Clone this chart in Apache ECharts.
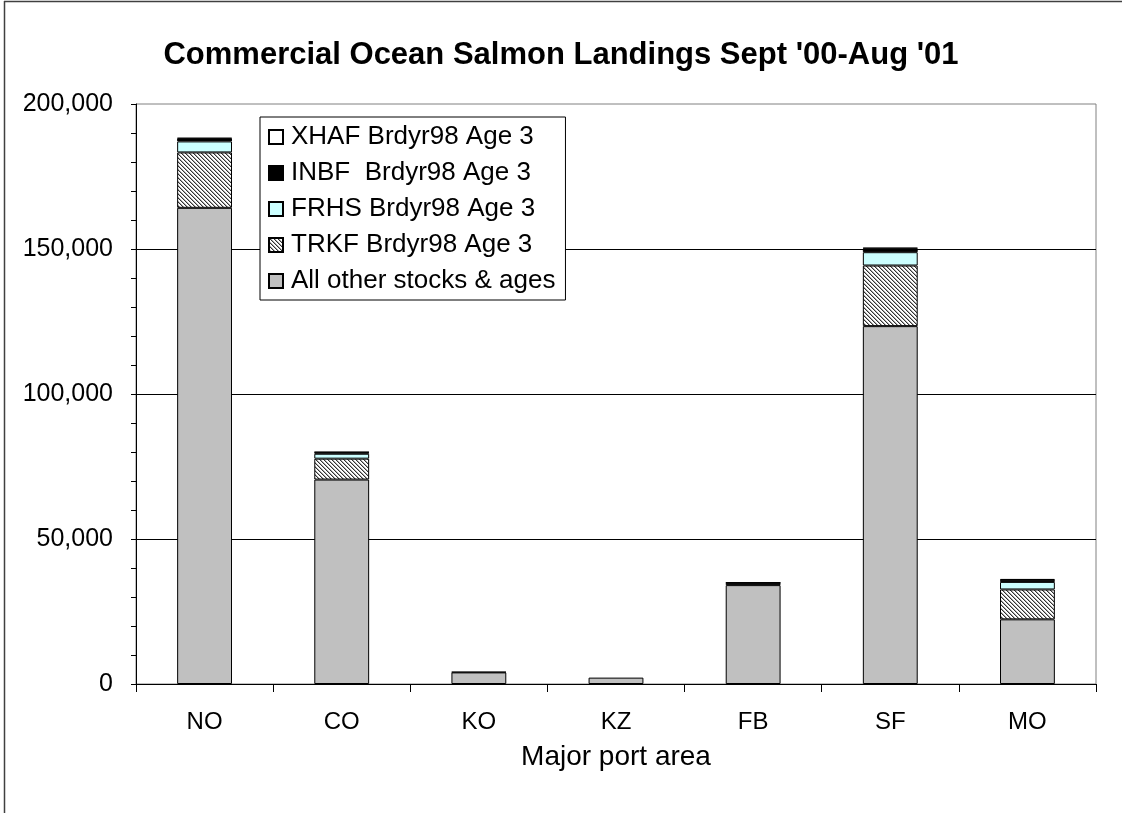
<!DOCTYPE html>
<html>
<head>
<meta charset="utf-8">
<title>Commercial Ocean Salmon Landings</title>
<script src="https://cdn.jsdelivr.net/npm/echarts@6/dist/echarts.min.js"></script>
<style>
  html, body { margin: 0; padding: 0; background: #fff; }
  #chart { width: 1122px; height: 813px; }
</style>
</head>
<body>
<div id="chart"></div>
<script>
// Port areas and landings by stock (fish)
var ports = ['NO', 'CO', 'KO', 'KZ', 'FB', 'SF', 'MO'];
var allOther = [164200, 70500, 4000, 2200, 34100, 123400, 22300];
var trkf = [19100, 7200, 200, '-', '-', 20900, 10300];
var frhs = [3800, 1700, '-', '-', '-', 4600, 2600];
var inbf = [1000, 500, '-', '-', 800, 1300, 700];
var xhaf = [200, 100, '-', '-', 100, 200, 300];

var seriesNames = ['XHAF Brdyr98 Age 3', 'INBF  Brdyr98 Age 3', 'FRHS Brdyr98 Age 3', 'TRKF Brdyr98 Age 3', 'All other stocks & ages'];

// diagonal hatch for TRKF
function hatch() {
  var c = document.createElement('canvas');
  c.width = 4;
  c.height = 4;
  var ctx = c.getContext('2d');
  ctx.fillStyle = '#fff';
  ctx.fillRect(0, 0, 4, 4);
  for (var i = 0; i < 4; i++) {
    ctx.fillStyle = '#333';
    ctx.fillRect(i, i, 1, 1);
    ctx.fillStyle = '#aaa';
    ctx.fillRect((i + 1) % 4, i, 1, 1);
  }
  return c;
}

function bar(name, data, color) {
  return {
    name: name,
    type: 'bar',
    stack: 'total',
    barWidth: '40%',
    data: data,
    itemStyle: { color: color, borderColor: '#000', borderWidth: 1 },
    emphasis: { disabled: true }
  };
}

document.addEventListener("DOMContentLoaded", () => {
  var chart = echarts.init(document.querySelector("#chart"));
  chart.setOption({
    animation: false,
    backgroundColor: '#fff',
    textStyle: { fontFamily: 'Liberation Sans, Arial, sans-serif', color: '#000' },
    title: {
      text: "Commercial Ocean Salmon Landings Sept '00-Aug '01",
      left: 'center',
      top: 35,
      textStyle: { fontSize: 31, fontWeight: 'bold', color: '#000', fontFamily: 'Liberation Sans, Arial, sans-serif' }
    },
    graphic: [
      { type: 'line', shape: { x1: 4, y1: 1.5, x2: 1122, y2: 1.5 }, style: { stroke: '#404040', lineWidth: 1.5 } },
      { type: 'line', shape: { x1: 4.5, y1: 1, x2: 4.5, y2: 813 }, style: { stroke: '#404040', lineWidth: 1.5 } }
    ],
    legend: {
      orient: 'vertical',
      left: 260,
      top: 117,
      data: seriesNames,
      icon: 'rect',
      itemWidth: 14,
      itemHeight: 14,
      itemGap: 10,
      padding: [7, 10, 6, 8],
      borderColor: '#000',
      borderWidth: 1,
      backgroundColor: '#fff',
      selectedMode: false,
      textStyle: { fontSize: 26, color: '#000', padding: [0, 0, 0, 3], fontFamily: 'Liberation Sans, Arial, sans-serif' }
    },
    grid: {
      left: 136,
      right: 26,
      top: 104,
      bottom: 129,
      show: true,
      borderColor: '#808080',
      borderWidth: 1
    },
    xAxis: {
      type: 'category',
      data: ports,
      boundaryGap: true,
      name: 'Major port area',
      nameLocation: 'middle',
      nameGap: 59,
      nameTextStyle: { fontSize: 28, color: '#000' },
      axisLine: { lineStyle: { color: '#000', width: 1 } },
      axisTick: { show: true, length: 8, lineStyle: { color: '#000' } },
      axisLabel: { fontSize: 24, color: '#000', margin: 26 }
    },
    yAxis: {
      type: 'value',
      min: 0,
      max: 200000,
      interval: 50000,
      axisLine: { show: true, lineStyle: { color: '#000', width: 1 } },
      axisTick: { show: true, length: 5, lineStyle: { color: '#000' } },
      minorTick: { show: true, splitNumber: 5, length: 5, lineStyle: { color: '#000' } },
      axisLabel: {
        fontSize: 25,
        color: '#000',
        margin: 23,
        formatter: function (v) { return v.toLocaleString('en-US'); }
      },
      splitLine: { show: true, showMaxLine: false, lineStyle: { color: '#000', width: 1 } }
    },
    series: [
      bar('All other stocks & ages', allOther, '#C0C0C0'),
      bar('TRKF Brdyr98 Age 3', trkf, { image: hatch(), repeat: 'repeat' }),
      bar('FRHS Brdyr98 Age 3', frhs, '#CCFFFF'),
      bar('INBF  Brdyr98 Age 3', inbf, '#000000'),
      bar('XHAF Brdyr98 Age 3', xhaf, '#FFFFFF')
    ]
  });
});
</script>
</body>
</html>
